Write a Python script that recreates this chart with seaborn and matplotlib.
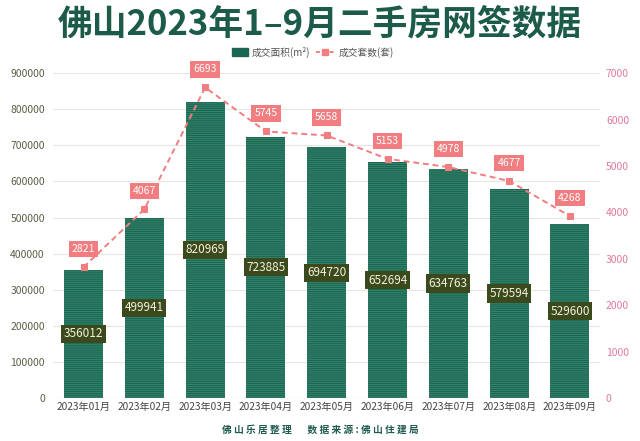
import numpy as np
import pandas as pd
import matplotlib
matplotlib.use('Agg')
import matplotlib.pyplot as plt
import seaborn as sns

# datos (la altura de sep. en el original no coincide con su etiqueta)
MESES = ['2023年01月', '2023年02月', '2023年03月', '2023年04月', '2023年05月',
         '2023年06月', '2023年07月', '2023年08月', '2023年09月']
AREA = [356012, 499941, 820969, 723885, 694720, 652694, 634763, 579594, 482000]
AREA_TXT = ['356012', '499941', '820969', '723885', '694720',
            '652694', '634763', '579594', '529600']
TAOS = [2821, 4067, 6693, 5745, 5658, 5153, 4978, 4677, 3920]
TAOS_TXT = ['2821', '4067', '6693', '5745', '5658', '5153', '4978', '4677', '4268']

VERDE = '#1b6651'
ROSA = '#f27d80'

sns.set_theme(style='white')
plt.rcParams['font.family'] = ['Noto Sans CJK SC', 'DejaVu Sans']

df = pd.DataFrame({'mes': MESES, 'area': AREA, 'taos': TAOS})

fig = plt.figure(figsize=(6.4, 4.41), dpi=100)
ax = fig.add_axes([0.083, 0.0975, 0.855, 0.7365])

plt.rcParams['hatch.color'] = '#3a8a72'
plt.rcParams['hatch.linewidth'] = 0.6
sns.barplot(data=df, x='mes', y='area', color=VERDE, width=0.64,
            saturation=1, ax=ax)
for p in ax.patches:
    p.set_hatch('--------')
    p.set_edgecolor('#3a8a72')
    p.set_linewidth(0)

ax.set_ylim(0, 900000)
ax.set_xlim(-0.5, 8.5)
ax.set_yticks(np.arange(0, 900001, 100000))
ax.set_yticklabels([str(v) for v in range(0, 900001, 100000)])
ax.yaxis.grid(True, color='#e8e7df', linewidth=0.8)
ax.set_axisbelow(True)
ax.set_xlabel('')
ax.set_ylabel('')
ax.tick_params(axis='y', colors='#5a5f45', labelsize=7.5, length=0, pad=6)
ax.tick_params(axis='x', colors='#444444', labelsize=7.3, length=0, pad=3)
for s in ax.spines.values():
    s.set_visible(False)
ax.axhline(0, color='#cccccc', linewidth=0.8)

for i, (v, t) in enumerate(zip(AREA, AREA_TXT)):
    ax.text(i, v / 2, t, ha='center', va='center', fontsize=8.5, color='#f4f0dc',
            bbox=dict(boxstyle='square,pad=0.22', fc='#3b4a1c', ec='none'))

ax2 = ax.twinx()
sns.lineplot(x=np.arange(len(TAOS)), y=TAOS, ax=ax2, color=ROSA, linewidth=1.4,
             linestyle=(0, (3, 2)), marker='s', markersize=5,
             markeredgecolor=ROSA, markerfacecolor=ROSA)
ax2.set_ylim(0, 7000)
ax2.set_yticks(np.arange(0, 7001, 1000))
ax2.set_yticklabels([str(v) for v in range(0, 7001, 1000)])
ax2.tick_params(axis='y', colors='#e0799a', labelsize=7.5, length=0, pad=4)
ax2.grid(False)
for s in ax2.spines.values():
    s.set_visible(False)

for i, (v, t) in enumerate(zip(TAOS, TAOS_TXT)):
    ax2.annotate(t, xy=(i, v), xytext=(0, 13), textcoords='offset points',
                 ha='center', va='center', fontsize=7.5, color='white',
                 bbox=dict(boxstyle='square,pad=0.3', fc=ROSA, ec='none'))

# titulo y leyenda
fig.text(0.5, 0.945, '佛山2023年1–9月二手房网签数据', ha='center', va='center',
         fontsize=25, fontweight='bold', color='#1c5a4a')

ly = 0.882
fig.patches.append(plt.Rectangle((0.362, ly - 0.009), 0.026, 0.018,
                                 transform=fig.transFigure, color=VERDE))
fig.text(0.393, ly, '成交面积(m²)', ha='left', va='center', fontsize=7, color='#555555')
fig.lines.append(plt.Line2D([0.494, 0.522], [ly, ly], transform=fig.transFigure,
                            color=ROSA, linestyle=(0, (2, 1.5)), linewidth=1.4))
fig.lines.append(plt.Line2D([0.508], [ly], transform=fig.transFigure, color=ROSA,
                            marker='s', markersize=5))
fig.text(0.529, ly, '成交套数(套)', ha='left', va='center', fontsize=7, color='#555555')

fig.text(0.5, 0.025, '佛 山 乐 居 整 理       数 据 来 源 : 佛 山 住 建 局',
         ha='center', va='center', fontsize=7, fontweight='bold', color='#1f5a50')

fig.savefig('out.png', dpi=100)
